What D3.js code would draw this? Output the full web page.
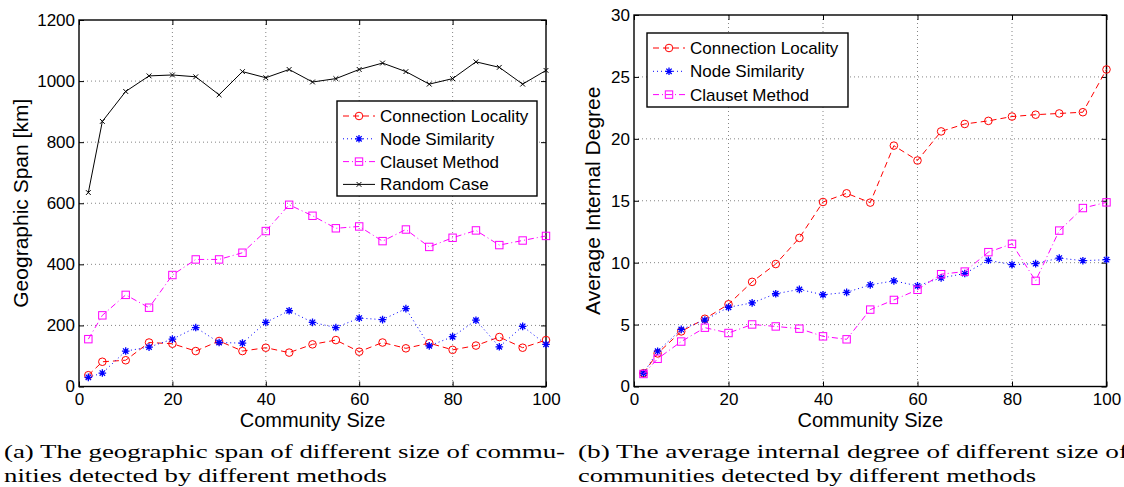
<!DOCTYPE html>
<html><head><meta charset="utf-8">
<script src="https://cdn.jsdelivr.net/npm/d3@7"></script>
<style>body{margin:0;background:#fff}svg{display:block}</style>
</head><body>
<svg id="c" width="1124" height="487"></svg>
<script>
// ---------- data ----------
const sizes = [2,5,10,15,20,25,30,35,40,45,50,55,60,65,70,75,80,85,90,95,100];
const xTicks = [0,20,40,60,80,100];

const spanLocality   = [37,81,86,144,140,116,149,116,127,111,138,152,114,144,125,142,120,134,162,127,152];
const spanSimilarity = [30,44,116,129,155,193,144,142,210,248,210,193,224,219,255,133,163,217,130,197,138];
const spanClauset    = [155,233,300,258,365,416,416,438,509,595,559,518,524,476,514,457,487,511,463,478,493];
const spanRandom     = [635,868,966,1017,1020,1014,955,1031,1011,1038,997,1008,1038,1059,1031,990,1008,1063,1045,990,1035];
const spanTicks = [0,200,400,600,800,1000,1200];

const degLocality   = [1.07,2.67,4.45,5.47,6.64,8.45,9.89,12.0,14.9,15.6,14.85,19.45,18.25,20.6,21.2,21.45,21.8,21.95,22.05,22.15,25.6];
const degSimilarity = [1.07,2.85,4.61,5.36,6.4,6.75,7.49,7.84,7.41,7.6,8.21,8.53,8.13,8.77,9.12,10.19,9.84,9.92,10.37,10.16,10.24];
const degClauset    = [1.01,2.24,3.63,4.75,4.32,5.01,4.85,4.67,4.05,3.81,6.21,6.99,7.81,9.07,9.28,10.85,11.52,8.53,12.59,14.41,14.87];
const degTicks = [0,5,10,15,20,25,30];

const seriesNames = ["Connection Locality","Node Similarity","Clauset Method","Random Case"];
const xLabel = "Community Size";
const captionA = ["(a) The geographic span of different size of commu-","nities detected by different methods"];
const captionB = ["(b) The average internal degree of different size of","communities detected by different methods"];

// ---------- styles ----------
const styles = {
  "Connection Locality": {color:"#ff0000", dash:"6,4", marker:"circle"},
  "Node Similarity":     {color:"#0000ff", dash:"1,3", marker:"star"},
  "Clauset Method":      {color:"#ff00ff", dash:"6,3,1,3", marker:"square"},
  "Random Case":         {color:"#000000", dash:null, marker:"x"}
};

const svg = d3.select("#c");
const sans = "'Liberation Sans', Arial, Helvetica, sans-serif";
const serif = "'Liberation Serif', 'Times New Roman', serif";

function drawMarker(g, type, color, x, y){
  if(type==="circle"){
    g.append("circle").attr("cx",x).attr("cy",y).attr("r",3.8)
      .attr("fill","none").attr("stroke",color).attr("stroke-width",1);
  } else if(type==="square"){
    g.append("rect").attr("x",x-3.7).attr("y",y-3.7).attr("width",7.4).attr("height",7.4)
      .attr("fill","none").attr("stroke",color).attr("stroke-width",1);
  } else if(type==="star"){
    g.append("path").attr("transform",`translate(${x},${y})`)
      .attr("d","M-3.8,0H3.8M0,-3.8V3.8M-2.7,-2.7L2.7,2.7M-2.7,2.7L2.7,-2.7")
      .attr("stroke",color).attr("stroke-width",1.3).attr("fill","none");
  } else if(type==="x"){
    g.append("path").attr("transform",`translate(${x},${y})`)
      .attr("d","M-2.4,-2.4L2.4,2.4M-2.4,2.4L2.4,-2.4")
      .attr("stroke",color).attr("stroke-width",1).attr("fill","none");
  }
}

function panel(o){
  const x = d3.scaleLinear().domain([0,100]).range([o.x0,o.x1]);
  const y = d3.scaleLinear().domain([o.yTicks[0], o.yTicks[o.yTicks.length-1]]).range([o.y1,o.y0]);
  const g = svg.append("g");
  const fmt = d3.format("d");

  // grid
  const grid = g.append("g").attr("stroke","#666").attr("stroke-width",0.8).attr("stroke-dasharray","1,3");
  xTicks.slice(1,-1).forEach(t=>grid.append("line").attr("x1",x(t)).attr("x2",x(t)).attr("y1",o.y0).attr("y2",o.y1));
  o.yTicks.slice(1,-1).forEach(t=>grid.append("line").attr("y1",y(t)).attr("y2",y(t)).attr("x1",o.x0).attr("x2",o.x1));

  // axes with inward ticks
  const fs = 17;
  const ax = g.append("g").attr("transform",`translate(0,${o.y1})`)
    .call(d3.axisBottom(x).tickValues(xTicks).tickFormat(fmt).tickSizeInner(-5).tickSizeOuter(0).tickPadding(6));
  const ax2 = g.append("g").attr("transform",`translate(0,${o.y0})`)
    .call(d3.axisTop(x).tickValues(xTicks).tickSizeInner(-5).tickSizeOuter(0).tickFormat(""));
  const ay = g.append("g").attr("transform",`translate(${o.x0},0)`)
    .call(d3.axisLeft(y).tickValues(o.yTicks).tickFormat(fmt).tickSizeInner(-5).tickSizeOuter(0).tickPadding(4));
  const ay2 = g.append("g").attr("transform",`translate(${o.x1},0)`)
    .call(d3.axisRight(y).tickValues(o.yTicks).tickSizeInner(-5).tickSizeOuter(0).tickFormat(""));
  [ax,ax2,ay,ay2].forEach(a=>{
    a.select(".domain").remove();
    a.selectAll(".tick line").attr("stroke","#000").attr("stroke-width",1);
    a.selectAll("text").attr("font-family",sans).attr("font-size",fs).attr("fill","#000");
  });
  ax.selectAll("text").attr("dy","0.71em");
  // frame
  g.append("rect").attr("x",o.x0).attr("y",o.y0).attr("width",o.x1-o.x0).attr("height",o.y1-o.y0)
    .attr("fill","none").attr("stroke","#000").attr("stroke-width",1.4);

  // series
  o.series.forEach(s=>{
    const st = styles[s.name];
    const line = d3.line().x((d,i)=>x(sizes[i])).y(d=>y(d));
    g.append("path").datum(s.values).attr("d",line).attr("fill","none")
      .attr("stroke",st.color).attr("stroke-width",1)
      .attr("stroke-dasharray",st.dash);
    const mg = g.append("g");
    s.values.forEach((v,i)=>drawMarker(mg, st.marker, st.color, x(sizes[i]), y(v)));
  });

  // labels
  g.append("text").attr("x",(o.x0+o.x1)/2).attr("y",426.5).attr("text-anchor","middle")
    .attr("font-family",sans).attr("font-size",20).text(xLabel);
  g.append("text").attr("transform",`translate(${o.yLabelX},${(o.y0+o.y1)/2}) rotate(-90)`)
    .attr("text-anchor","middle").attr("font-family",sans).attr("font-size",21).text(o.yLabel);

  // legend
  const L = o.legend;
  const lg = g.append("g");
  lg.append("rect").attr("x",L.x).attr("y",L.y).attr("width",L.w).attr("height",L.h)
    .attr("fill","#fff").attr("stroke","#000").attr("stroke-width",1.4);
  o.series.forEach((s,i)=>{
    const st = styles[s.name];
    const cy = L.y + 15 + i*L.step;
    lg.append("line").attr("x1",L.x+6).attr("x2",L.x+38).attr("y1",cy).attr("y2",cy)
      .attr("stroke",st.color).attr("stroke-width",1).attr("stroke-dasharray",st.dash);
    drawMarker(lg, st.marker, st.color, L.x+22, cy);
    lg.append("text").attr("x",L.x+43).attr("y",cy+6).attr("font-family",sans)
      .attr("font-size",17).text(s.name);
  });

  // caption
  o.caption.forEach((c,i)=>{
    svg.append("text").attr("x",o.capX).attr("y",458+i*23.5)
      .attr("font-family",serif).attr("font-size",19)
      .attr("textLength",o.capLen[i]).attr("lengthAdjust","spacingAndGlyphs").text(c);
  });
}

panel({
  x0:79, x1:546, y0:20, y1:386.5, yTicks:spanTicks,
  yLabel:"Geographic Span [km]", yLabelX:28,
  series:[
    {name:seriesNames[0], values:spanLocality},
    {name:seriesNames[1], values:spanSimilarity},
    {name:seriesNames[2], values:spanClauset},
    {name:seriesNames[3], values:spanRandom}
  ],
  legend:{x:337, y:101, w:200, h:95, step:22.8},
  caption:captionA, capX:4, capLen:[561,383]
});

panel({
  x0:634, x1:1106.5, y0:15, y1:386.5, yTicks:degTicks,
  yLabel:"Average Internal Degree", yLabelX:600,
  series:[
    {name:seriesNames[0], values:degLocality},
    {name:seriesNames[1], values:degSimilarity},
    {name:seriesNames[2], values:degClauset}
  ],
  legend:{x:647, y:33, w:201, h:74, step:23.3},
  caption:captionB, capX:578, capLen:[550,458]
});
</script>
</body></html>
